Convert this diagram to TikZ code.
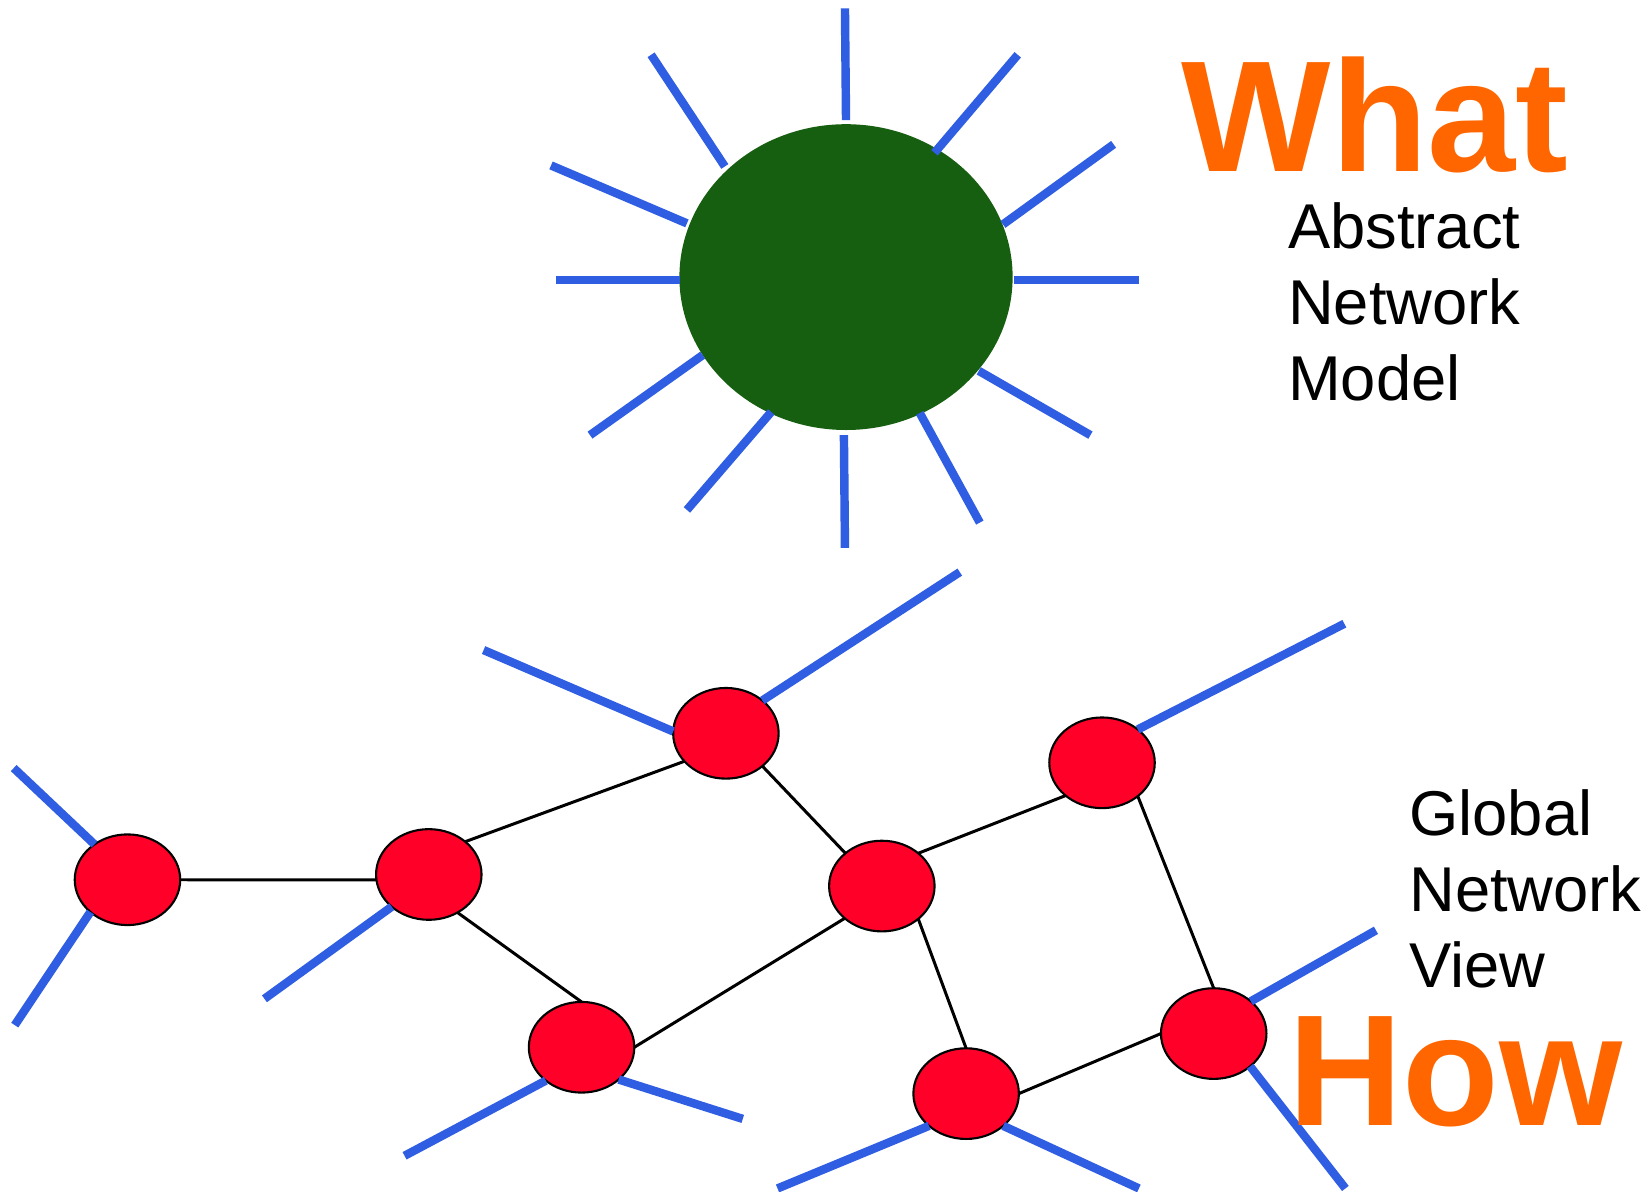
\documentclass[tikz,border=0pt]{standalone}
\usepackage{fontspec}
\setmainfont{Liberation Sans}
\usetikzlibrary{shapes.geometric}
\definecolor{linkblue}{HTML}{2F5EE3}
\definecolor{hubgreen}{HTML}{175F10}
\definecolor{routerred}{HTML}{FF0029}
\definecolor{titleorange}{HTML}{FF6600}
\tikzset{%
    router/.style={ellipse,draw=black,line width=0.6pt,fill=routerred,
        minimum width=1.054cm,minimum height=0.906cm,inner sep=0pt,outer sep=0pt},
    hub/.style={ellipse,fill=hubgreen,minimum width=3.33cm,minimum height=3.056cm,
        inner sep=0pt,outer sep=0pt},
    link/.style={line width=0.85pt},
    stub/.style={linkblue,line width=2.4pt},
    bigword/.style={titleorange,font=\fontsize{45}{50}\selectfont\bfseries,
        inner sep=0pt,text depth=0pt,anchor=base west},
    caption/.style={font=\fontsize{18}{21.6}\selectfont,align=left,
        inner sep=0pt,anchor=base west}
}

\begin{document}
\begin{tikzpicture}[x=0.010536cm,y=-0.010536cm]
    \useasboundingbox (0,0) rectangle (1568,1131);

    % abstract model: one big node with its ports
    \node[hub] (hub) at (803,263) {};
    \draw[stub] (802,8) -- (803,114);
    \draw[stub] (966,52) -- (887,145);
    \draw[stub] (1057,137) -- (952,213);
    \draw[stub] (962,266) -- (1081,266);
    \draw[stub] (929,352) -- (1035,413);
    \draw[stub] (873,392) -- (930,496);
    \draw[stub] (801,413) -- (802,520);
    \draw[stub] (732,391) -- (652,484);
    \draw[stub] (667,337) -- (560,413);
    \draw[stub] (528,266) -- (645,266);
    \draw[stub] (652,212) -- (523,157);
    \draw[stub] (688,158) -- (618,52);

    \node[bigword] (what) at (1121,163) {What};
    \node[caption] (model) at (1222,380) {Abstract\\Network\\Model};

    % global view: routers and links
    \node[router] (n1) at (121,835) {};
    \node[router] (n2) at (407,830) {};
    \node[router] (n3) at (689,696) {};
    \node[router] (n4) at (552,994) {};
    \node[router] (n5) at (837,841) {};
    \node[router] (n6) at (1046,724) {};
    \node[router] (n7) at (1152,981) {};
    \node[router] (n8) at (917,1038) {};

    \draw[link] (n1.0) -- (n2.186);
    \draw[link] (n2.42) -- (n3.214);
    \draw[link] (n2.307) -- (n4.90);
    \draw[link] (n3.318) -- (n5.138);
    \draw[link] (n4.0) -- (n5.221);
    \draw[link] (n5.42) -- (n6.222);
    \draw[link] (n5.318) -- (n8.90);
    \draw[link] (n6.317) -- (n7.90);
    \draw[link] (n8.0) -- (n7.180);

    % outside ports
    \foreach \name/\x/\y in {t1/13/729, t2/14/973, t3/251/948, t4/459/617,
        t5/911/543, t6/384/1097, t7/705/1062, t8/1276/592, t9/1306/883,
        t10/1277/1128, t11/738/1128, t12/1081/1128}
        \coordinate (\name) at (\x,\y);
    \draw[stub] (n1.133) -- (t1);
    \draw[stub] (n1.221) -- (t2);
    \draw[stub] (n2.221) -- (t3);
    \draw[stub] (n3.178) -- (t4);
    \draw[stub] (n3.42) -- (t5);
    \draw[stub] (n4.223) -- (t6);
    \draw[stub] (n4.319) -- (t7);
    \draw[stub] (n6.43) -- (t8);
    \draw[stub] (n7.41) -- (t9);
    \draw[stub] (n7.318) -- (t10);
    \draw[stub] (n8.221) -- (t11);
    \draw[stub] (n8.319) -- (t12);

    \node[caption] (view) at (1337,937) {Global\\Network\\View};
    \node[bigword] (how) at (1222,1068) {How};
\end{tikzpicture}
\end{document}
